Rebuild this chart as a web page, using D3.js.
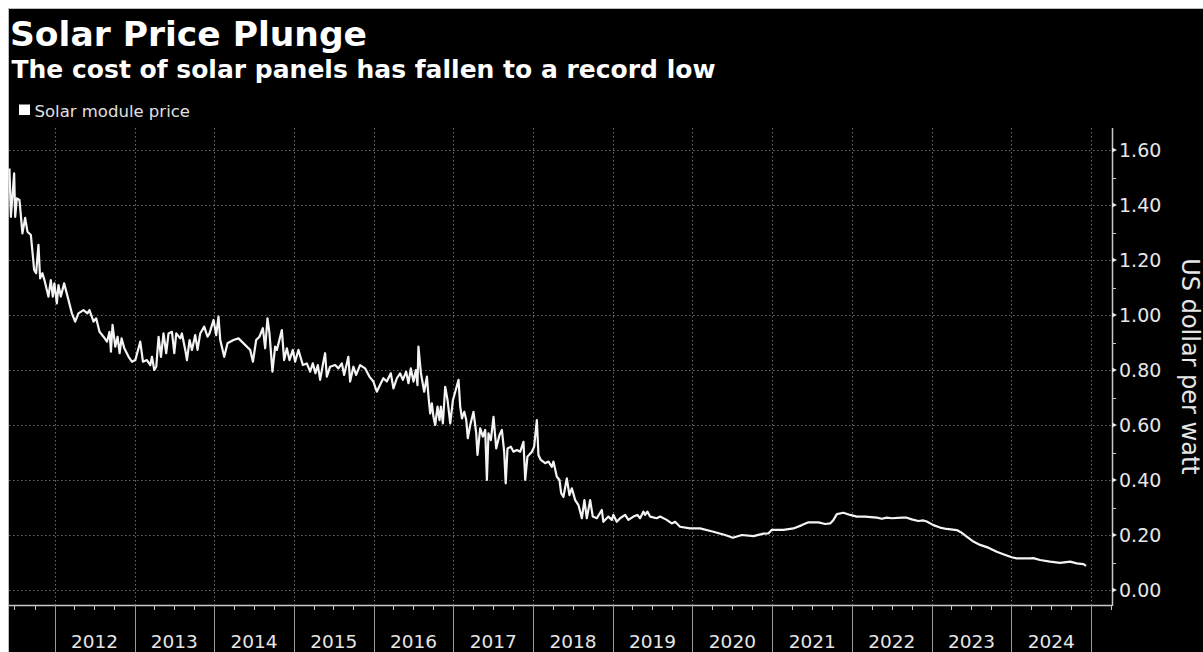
<!DOCTYPE html>
<html>
<head>
<meta charset="utf-8">
<script src="https://cdn.jsdelivr.net/npm/d3@7"></script>
<style>
  html, body { margin: 0; padding: 0; background: #fff; }
  svg { display: block; }
  text { font-family: "DejaVu Sans", Verdana, sans-serif; }
</style>
</head>
<body>
<svg id="chart" width="1203" height="652"></svg>
<script>
// ---- text ----
const titleText = "Solar Price Plunge";
const subtitleText = "The cost of solar panels has fallen to a record low";
const seriesName = "Solar module price";
const axisTitle = "US dollar per watt";

// ---- axis ticks ----
const yTickValues = [0, 0.2, 0.4, 0.6, 0.8, 1.0, 1.2, 1.4, 1.6];
const yMinorTickValues = [0.1, 0.3, 0.5, 0.7, 0.9, 1.1, 1.3, 1.5];
const yearLabels = [2012, 2013, 2014, 2015, 2016, 2017, 2018, 2019, 2020, 2021, 2022, 2023, 2024];

// ---- series: observation time (decimal year) and module price (USD per watt) ----
const obsYear = [
  2011.433, 2011.451, 2011.492, 2011.505, 2011.526, 2011.559, 2011.596, 2011.630, 2011.659, 2011.702,
  2011.743, 2011.768, 2011.797, 2011.818, 2011.847, 2011.872, 2011.922, 2011.952, 2011.977, 2011.997,
  2012.028, 2012.048, 2012.078, 2012.119, 2012.173, 2012.216, 2012.257, 2012.298, 2012.361, 2012.411,
  2012.436, 2012.487, 2012.520, 2012.562, 2012.612, 2012.655, 2012.687, 2012.705, 2012.725, 2012.759,
  2012.788, 2012.813, 2012.838, 2012.872, 2012.926, 2012.968, 2013.010, 2013.072, 2013.106, 2013.156,
  2013.198, 2013.219, 2013.248, 2013.273, 2013.302, 2013.332, 2013.364, 2013.398, 2013.427, 2013.470,
  2013.499, 2013.524, 2013.574, 2013.595, 2013.637, 2013.658, 2013.691, 2013.721, 2013.762, 2013.791,
  2013.825, 2013.875, 2013.916, 2013.941, 2013.992, 2014.025, 2014.054, 2014.076, 2014.126, 2014.167,
  2014.242, 2014.305, 2014.410, 2014.452, 2014.486, 2014.527, 2014.568, 2014.611, 2014.640, 2014.669,
  2014.694, 2014.731, 2014.765, 2014.787, 2014.849, 2014.878, 2014.912, 2014.945, 2014.987, 2015.016,
  2015.057, 2015.113, 2015.163, 2015.204, 2015.238, 2015.271, 2015.301, 2015.330, 2015.363, 2015.392,
  2015.414, 2015.455, 2015.518, 2015.559, 2015.602, 2015.631, 2015.684, 2015.706, 2015.747, 2015.781,
  2015.831, 2015.894, 2015.948, 2015.998, 2016.041, 2016.091, 2016.123, 2016.166, 2016.216, 2016.249,
  2016.292, 2016.333, 2016.367, 2016.408, 2016.437, 2016.467, 2016.500, 2016.530, 2016.550, 2016.562,
  2016.593, 2016.634, 2016.668, 2016.688, 2016.709, 2016.730, 2016.750, 2016.772, 2016.801, 2016.826,
  2016.843, 2016.868, 2016.897, 2016.926, 2016.960, 2016.994, 2017.023, 2017.064, 2017.085, 2017.107,
  2017.136, 2017.161, 2017.180, 2017.211, 2017.252, 2017.286, 2017.302, 2017.336, 2017.370, 2017.399,
  2017.420, 2017.440, 2017.470, 2017.503, 2017.537, 2017.578, 2017.608, 2017.637, 2017.656, 2017.679,
  2017.721, 2017.754, 2017.796, 2017.838, 2017.879, 2017.901, 2017.929, 2017.985, 2018.013, 2018.047,
  2018.067, 2018.097, 2018.151, 2018.193, 2018.235, 2018.255, 2018.298, 2018.331, 2018.352, 2018.381,
  2018.423, 2018.456, 2018.486, 2018.528, 2018.569, 2018.612, 2018.644, 2018.674, 2018.716, 2018.749,
  2018.800, 2018.862, 2018.882, 2018.945, 2018.988, 2019.008, 2019.050, 2019.092, 2019.155, 2019.196,
  2019.259, 2019.309, 2019.343, 2019.384, 2019.406, 2019.434, 2019.468, 2019.552, 2019.594, 2019.677,
  2019.740, 2019.782, 2019.844, 2019.970, 2020.095, 2020.262, 2020.409, 2020.505, 2020.618, 2020.764,
  2020.889, 2020.952, 2020.994, 2021.140, 2021.265, 2021.371, 2021.453, 2021.579, 2021.663, 2021.726,
  2021.767, 2021.810, 2021.892, 2021.976, 2022.060, 2022.164, 2022.311, 2022.374, 2022.437, 2022.499,
  2022.625, 2022.688, 2022.750, 2022.833, 2022.896, 2022.938, 2023.021, 2023.105, 2023.189, 2023.314,
  2023.377, 2023.440, 2023.523, 2023.607, 2023.711, 2023.816, 2023.899, 2024.004, 2024.067, 2024.234,
  2024.275, 2024.359, 2024.484, 2024.610, 2024.735, 2024.819, 2024.902, 2024.935
];
const price = [
  1.533, 1.357, 1.515, 1.357, 1.424, 1.418, 1.297, 1.353, 1.303, 1.291,
  1.164, 1.152, 1.255, 1.133, 1.152, 1.127, 1.067, 1.127, 1.067, 1.115,
  1.042, 1.109, 1.067, 1.115, 1.055, 1.006, 0.976, 1.006, 1.018, 1.006,
  1.018, 0.976, 0.988, 0.939, 0.921, 0.903, 0.939, 0.867, 0.964, 0.885,
  0.921, 0.861, 0.915, 0.879, 0.848, 0.830, 0.836, 0.903, 0.830, 0.836,
  0.818, 0.848, 0.800, 0.812, 0.921, 0.848, 0.933, 0.861, 0.933, 0.939,
  0.861, 0.933, 0.915, 0.933, 0.873, 0.836, 0.909, 0.873, 0.927, 0.873,
  0.933, 0.958, 0.921, 0.933, 0.982, 0.927, 0.994, 0.909, 0.848, 0.897,
  0.909, 0.915, 0.885, 0.873, 0.830, 0.909, 0.921, 0.952, 0.879, 0.988,
  0.933, 0.794, 0.885, 0.873, 0.945, 0.836, 0.879, 0.836, 0.873, 0.830,
  0.873, 0.818, 0.824, 0.794, 0.824, 0.788, 0.818, 0.764, 0.818, 0.861,
  0.776, 0.812, 0.818, 0.806, 0.824, 0.782, 0.848, 0.758, 0.812, 0.782,
  0.818, 0.806, 0.776, 0.758, 0.721, 0.752, 0.770, 0.758, 0.788, 0.733,
  0.770, 0.788, 0.764, 0.794, 0.752, 0.806, 0.758, 0.800, 0.745, 0.885,
  0.788, 0.721, 0.776, 0.703, 0.642, 0.679, 0.630, 0.600, 0.667, 0.618,
  0.667, 0.606, 0.739, 0.691, 0.606, 0.691, 0.721, 0.764, 0.667, 0.624,
  0.648, 0.618, 0.552, 0.600, 0.648, 0.570, 0.491, 0.588, 0.558, 0.582,
  0.400, 0.570, 0.545, 0.630, 0.515, 0.564, 0.582, 0.503, 0.388, 0.515,
  0.521, 0.503, 0.509, 0.503, 0.539, 0.400, 0.485, 0.503, 0.521, 0.618,
  0.491, 0.473, 0.461, 0.467, 0.448, 0.467, 0.412, 0.400, 0.352, 0.339,
  0.406, 0.345, 0.370, 0.327, 0.309, 0.261, 0.327, 0.261, 0.327, 0.267,
  0.261, 0.291, 0.248, 0.267, 0.255, 0.273, 0.248, 0.261, 0.273, 0.255,
  0.267, 0.273, 0.261, 0.285, 0.273, 0.285, 0.267, 0.261, 0.267, 0.255,
  0.242, 0.248, 0.230, 0.224, 0.224, 0.212, 0.200, 0.190, 0.200, 0.196,
  0.205, 0.206, 0.219, 0.219, 0.224, 0.236, 0.246, 0.246, 0.240, 0.242,
  0.255, 0.276, 0.281, 0.273, 0.267, 0.267, 0.263, 0.259, 0.263, 0.261,
  0.263, 0.263, 0.257, 0.251, 0.253, 0.249, 0.236, 0.227, 0.222, 0.218,
  0.208, 0.194, 0.176, 0.164, 0.154, 0.139, 0.130, 0.119, 0.115, 0.115,
  0.116, 0.109, 0.103, 0.099, 0.103, 0.097, 0.094, 0.088
];

// ---- helpers ----
function yearToDate(t) {
  const y = Math.floor(t);
  const a = new Date(y, 0, 1), b = new Date(y + 1, 0, 1);
  return new Date(+a + (t - y) * (b - a));
}
const series = obsYear.map((t, i) => ({ date: yearToDate(t), value: price[i] }));

// ---- layout ----
const W = 1203, H = 652;
const frame = { left: 9, top: 9 };
const plot = { left: 9, right: 1112, top: 128, bottom: 605 };

const svg = d3.select("#chart");

// dark panel with thin light border
svg.append("rect")
  .attr("x", frame.left - 0.5).attr("y", frame.top - 0.5)
  .attr("width", W - frame.left + 1).attr("height", H - frame.top + 1)
  .attr("fill", "#000").attr("stroke", "#bdbdbd").attr("stroke-width", 1);

// ---- scales ----
const x = d3.scaleTime()
  .domain([new Date(2011, 5, 6), new Date(2025, 3, 6)])
  .range([plot.left, plot.right]);
const y = d3.scaleLinear()
  .domain([-0.0545, 1.68])
  .range([plot.bottom, plot.top]);

// ---- gridlines ----
const yearStarts = d3.timeYear.range(x.domain()[0], x.domain()[1]).filter(d => x(d) > plot.left + 1);
const grid = svg.append("g").attr("stroke", "#6a6a6a").attr("stroke-width", 1)
  .attr("stroke-dasharray", "1.5,2.5");
grid.selectAll("line.h").data(yTickValues).join("line").attr("class", "h")
  .attr("x1", plot.left).attr("x2", plot.right)
  .attr("y1", d => Math.round(y(d)) + 0.5).attr("y2", d => Math.round(y(d)) + 0.5);
grid.selectAll("line.v").data(yearStarts).join("line").attr("class", "v")
  .attr("x1", d => Math.round(x(d)) + 0.5).attr("x2", d => Math.round(x(d)) + 0.5)
  .attr("y1", plot.top).attr("y2", plot.bottom);

// ---- x axis: baseline, quarter ticks, year separators, centred year labels ----
const axisColor = "#c8c8c8";
const xAxis = svg.append("g");
xAxis.append("line")
  .attr("x1", plot.left).attr("x2", plot.right)
  .attr("y1", plot.bottom + 0.5).attr("y2", plot.bottom + 0.5)
  .attr("stroke", axisColor).attr("stroke-width", 1.5);
const quarters = d3.timeMonth.every(3).range(x.domain()[0], x.domain()[1])
  .filter(d => d.getMonth() !== 0);
xAxis.selectAll("line.q").data(quarters).join("line").attr("class", "q")
  .attr("x1", d => Math.round(x(d)) + 0.5).attr("x2", d => Math.round(x(d)) + 0.5)
  .attr("y1", plot.bottom).attr("y2", plot.bottom + 5)
  .attr("stroke", axisColor).attr("stroke-width", 1);
xAxis.selectAll("line.yr").data(yearStarts).join("line").attr("class", "yr")
  .attr("x1", d => Math.round(x(d)) + 0.5).attr("x2", d => Math.round(x(d)) + 0.5)
  .attr("y1", plot.bottom).attr("y2", H)
  .attr("stroke", "#9a9a9a").attr("stroke-width", 1);
xAxis.selectAll("text").data(yearLabels).join("text")
  .attr("x", d => {
    const a = Math.max(x(new Date(d, 0, 1)), plot.left);
    const b = Math.min(x(new Date(d + 1, 0, 1)), plot.right);
    return (a + b) / 2;
  })
  .attr("y", 647.5)
  .attr("text-anchor", "middle")
  .attr("fill", "#e6e6e6")
  .style("font-size", "18.5px")
  .text(d => d);

// ---- y axis on the right ----
const yAxis = svg.append("g");
yAxis.append("line")
  .attr("x1", plot.right + 0.5).attr("x2", plot.right + 0.5)
  .attr("y1", plot.top).attr("y2", plot.bottom + 1)
  .attr("stroke", axisColor).attr("stroke-width", 1.5);
yAxis.selectAll("path.major").data(yTickValues).join("path").attr("class", "major")
  .attr("d", d => {
    const ty = y(d);
    return `M${plot.right},${ty - 2.5}L${plot.right + 5},${ty}L${plot.right},${ty + 2.5}Z`;
  })
  .attr("fill", "#e6e6e6");
yAxis.selectAll("line.minor").data(yMinorTickValues).join("line").attr("class", "minor")
  .attr("x1", plot.right).attr("x2", plot.right + 4)
  .attr("y1", d => Math.round(y(d)) + 0.5).attr("y2", d => Math.round(y(d)) + 0.5)
  .attr("stroke", axisColor).attr("stroke-width", 1);
yAxis.selectAll("text").data(yTickValues).join("text")
  .attr("x", plot.right + 7)
  .attr("y", d => y(d))
  .attr("dy", "0.36em")
  .attr("fill", "#e6e6e6")
  .style("font-size", "19px")
  .text(d => d3.format(".2f")(d));
svg.append("text")
  .attr("transform", `translate(1182,${(258 + 475) / 2}) rotate(90)`)
  .attr("text-anchor", "middle")
  .attr("fill", "#e6e6e6")
  .style("font-size", "24px")
  .text(axisTitle);

// ---- series line ----
const line = d3.line().x(d => x(d.date)).y(d => y(d.value));
svg.append("path")
  .datum(series)
  .attr("d", line)
  .attr("fill", "none")
  .attr("stroke", "#f4f4f4")
  .attr("stroke-width", 2.2)
  .attr("stroke-linejoin", "round");

// ---- headline, subtitle, legend ----
svg.append("text")
  .attr("x", 10).attr("y", 46)
  .attr("fill", "#fff")
  .style("font-size", "34.5px").style("font-weight", "bold")
  .text(titleText);
svg.append("text")
  .attr("x", 11.5).attr("y", 77.5)
  .attr("fill", "#fff")
  .style("font-size", "25px").style("font-weight", "bold")
  .text(subtitleText);
svg.append("rect")
  .attr("x", 19).attr("y", 104.5).attr("width", 11).attr("height", 10.5)
  .attr("fill", "#fff");
svg.append("text")
  .attr("x", 34.5).attr("y", 116.5)
  .attr("fill", "#e0e0e0")
  .style("font-size", "16.5px")
  .text(seriesName);
</script>
</body>
</html>
